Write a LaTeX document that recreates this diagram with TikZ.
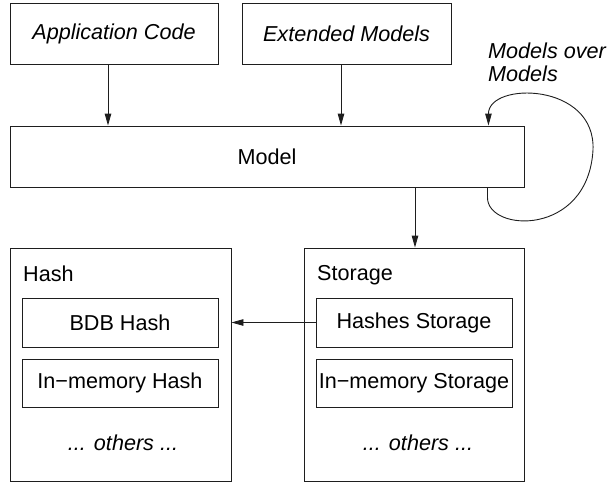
\documentclass[tikz,border=0pt]{standalone}
\usepackage{fontspec}
\setmainfont{Liberation Sans}
\usetikzlibrary{arrows.meta}
\definecolor{linec}{HTML}{1E1E1E}
\begin{document}
\begin{tikzpicture}[x=1pt,y=-1pt,
  txt/.style={font=\fontsize{21.6}{23}\selectfont, text=black},
  bx/.style 2 args={draw=linec, line width=0.9pt, rectangle, inner sep=0pt,
     minimum width=#1pt, minimum height=#2pt, txt},
  arr/.style={draw=linec, line width=0.9pt, -{Triangle[length=12pt,width=6.5pt]}}]
\useasboundingbox (0,0) rectangle (608,482);
% top boxes
\node[bx={208}{61}] (app) at (114,34) {\itshape Application Code};
\node[bx={209}{61}] (ext) at (346.5,34) {\itshape Extended Models};
\node[bx={514}{61}] (model) at (267,156.5) {Model};
% containers
\node[bx={221}{233}] (hash) at (120.5,364.5) {};
\node[bx={220}{233}] (storage) at (414,364.5) {};
\node[txt, anchor=north west, inner sep=0pt] (hashlbl) at (23,266) {Hash};
\node[txt, anchor=north west, inner sep=0pt] (storlbl) at (317,265) {Storage};
\node[bx={196}{49}] (bdb) at (120,322.5) {BDB Hash};
\node[bx={196}{48}] (imh) at (120,383) {In−memory Hash};
\node[bx={196}{49}] (hs) at (414,322.5) {Hashes Storage};
\node[bx={196}{48}] (ims) at (414,383) {In−memory Storage};
\node[txt, inner sep=0pt] (oth1) at (123,443) {\itshape ... others ...};
\node[txt, inner sep=0pt] (oth2) at (418,443) {\itshape ... others ...};
% loop label
\node[txt, anchor=north west, inner sep=0pt, align=left] (loopl) at (488,43) {\itshape Models over\\\itshape Models};
% arrows
\path (app.south) ++(-6,0) coordinate (a1);
\draw[arr] (a1) -- (a1 |- model.north);
\path (ext.south) ++(-5.5,0) coordinate (a2);
\draw[arr] (a2) -- (a2 |- model.north);
\path (storage.north) ++(1,0) coordinate (a3);
\draw[arr] (a3 |- model.south) -- (a3);
\draw[arr] (hs.west) -- (hs.west -| hash.east);
% self loop
\path (model.south east) ++(-37,0) coordinate (ls);
\path (model.north east) ++(-36,0) coordinate (le);
\draw[arr] (ls) -- ++(0,10) .. controls +(0,35) and (588,237) .. (593,150)
   .. controls (596,82) and +(0,-44) .. (le);
\end{tikzpicture}
\end{document}
